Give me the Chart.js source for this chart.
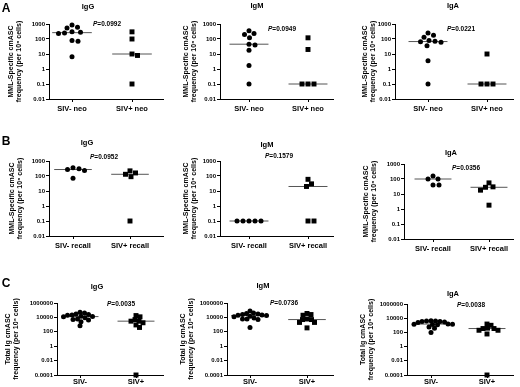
<!DOCTYPE html>
<html>
<head>
<meta charset="utf-8">
<script src="https://cdn.jsdelivr.net/npm/chart.js@4.4.0/dist/chart.umd.min.js"></script>
<style>
  html, body { margin: 0; padding: 0; background: #fff; }
  #page { position: relative; width: 520px; height: 387px; overflow: hidden;
          font-family: Arial, "Liberation Sans", sans-serif; }
  canvas { position: absolute; }
  .txt { position: absolute; white-space: nowrap; font-weight: bold; color: #000; line-height: 1;
         will-change: transform; }
  .mid { transform: translate(-50%, -50%); }
  .left { transform: translate(0, -50%); }
</style>
</head>
<body>
<div id="page"></div>
<script>
// categories and tick labels
const neoCats = ["SIV- neo", "SIV+ neo"];
const recallCats = ["SIV- recall", "SIV+ recall"];
const totalCats = ["SIV-", "SIV+"];

const specificTicks = [0.01, 0.1, 1, 10, 100, 1000];
const specificTickLabels = ["0.01", "0.1", "1", "10", "100", "1000"];
const totalTicks = [0.0001, 0.01, 1, 100, 10000, 1000000];
const totalTickLabels = ["0.0001", "0.01", "1", "100", "10000", "1000000"];

const specificTitle = ["MML-Specific cmASC", "frequency (per 10\u2076 cells)"];
const totalTitle = ["Total Ig cmASC", "frequency (per 10\u2076 cells)"];

// A: MML-specific, neonatal
const neoIgGNeg = [850, 600, 550, 300, 280, 250, 230, 80, 70, 6.5];
const neoIgGPos = [300, 100, 10, 8, 0.1];
const neoIgMNeg = [350, 230, 200, 120, 45, 40, 18, 1.7, 0.1];
const neoIgMPos = [120, 20, 0.1, 0.1, 0.1];
const neoIgANeg = [250, 180, 130, 80, 70, 65, 60, 35, 3.5, 0.1];
const neoIgAPos = [10, 0.1, 0.1, 0.1];

// B: MML-specific, recall
const recallIgGNeg = [350, 300, 270, 230, 70];
const recallIgGPos = [220, 160, 130, 90, 0.1];
const recallIgMNeg = [0.1, 0.1, 0.1, 0.1, 0.1];
const recallIgMPos = [60, 30, 20, 0.1, 0.1];
const recallIgANeg = [160, 100, 100, 40, 40];
const recallIgAPos = [55, 30, 28, 18, 1.8];

// C: total Ig
const totalIgGNeg = [50000, 40000, 30000, 25000, 22000, 20000, 14000, 13000, 12000, 9000, 6000, 5000, 4500, 2500, 700];
const totalIgGPos = [18000, 12000, 5000, 3000, 3000, 1800, 900, 400, 0.0001];
const totalIgMNeg = [80000, 40000, 35000, 30000, 25000, 22000, 20000, 18000, 15000, 12000, 8000, 6000, 6000, 5000, 400];
const totalIgMPos = [35000, 25000, 20000, 6000, 5000, 5000, 2000, 2000, 350];
const totalIgANeg = [4500, 4000, 4000, 3500, 3500, 3000, 2500, 1500, 1400, 1400, 1300, 1200, 600, 400, 100];
const totalIgAPos = [1500, 1000, 400, 350, 350, 200, 200, 60, 0.0001];

const pValues = ["0.0992", "0.0949", "0.0221", "0.0952", "0.1579", "0.0356", "0.0035", "0.0736", "0.0038"];

// panel placement on the page (pixels)
const panels = [
  { iso: "IgG", cats: neoCats, neg: neoIgGNeg, pos: neoIgGPos, spec: true,
    col: 0, ax: 49, right: 163, top: 24, bottom: 99, g1: 72, g2: 132,
    tx: 88, ty: 7, px: 93, py: 24, yt: 11 },
  { iso: "IgM", cats: neoCats, neg: neoIgMNeg, pos: neoIgMPos, spec: true,
    col: 170, ax: 220, right: 333, top: 24, bottom: 99, g1: 249, g2: 308,
    tx: 257, ty: 6, px: 268, py: 29, yt: 186 },
  { iso: "IgA", cats: neoCats, neg: neoIgANeg, pos: neoIgAPos, spec: true,
    col: 345, ax: 395, right: 513, top: 24, bottom: 99, g1: 428, g2: 487,
    tx: 453, ty: 6, px: 447, py: 29, yt: 365 },
  { iso: "IgG", cats: recallCats, neg: recallIgGNeg, pos: recallIgGPos, spec: true,
    col: 0, ax: 49, right: 163, top: 161, bottom: 236, g1: 73, g2: 130,
    tx: 87, ty: 143, px: 90, py: 157, yt: 12 },
  { iso: "IgM", cats: recallCats, neg: recallIgMNeg, pos: recallIgMPos, spec: true,
    col: 170, ax: 220, right: 333, top: 161, bottom: 236, g1: 249, g2: 308,
    tx: 267, ty: 145, px: 265, py: 156, yt: 186 },
  { iso: "IgA", cats: recallCats, neg: recallIgANeg, pos: recallIgAPos, spec: true,
    col: 345, ax: 404, right: 513, top: 164, bottom: 239, g1: 433, g2: 489,
    tx: 451, ty: 153, px: 452, py: 168, yt: 366 },
  { iso: "IgG", cats: totalCats, neg: totalIgGNeg, pos: totalIgGPos, spec: false,
    col: 0, ax: 57, right: 163, top: 303, bottom: 375, g1: 80, g2: 136,
    tx: 97, ty: 287, px: 107, py: 304, yt: 8 },
  { iso: "IgM", cats: totalCats, neg: totalIgMNeg, pos: totalIgMPos, spec: false,
    col: 170, ax: 227, right: 333, top: 303, bottom: 375, g1: 250, g2: 307,
    tx: 263, ty: 286, px: 270, py: 303, yt: 183 },
  { iso: "IgA", cats: totalCats, neg: totalIgANeg, pos: totalIgAPos, spec: false,
    col: 345, ax: 407, right: 513, top: 304, bottom: 375, g1: 431, g2: 487,
    tx: 453, ty: 294, px: 457, py: 305, yt: 363 }
];

const letters = [["A", 6, 8], ["B", 6, 141], ["C", 6, 283]];

const page = document.getElementById("page");
const FONT = "Arial, 'Liberation Sans', sans-serif";

const median = (arr) => {
  const s = [...arr].sort((a, b) => a - b);
  const m = Math.floor(s.length / 2);
  return s.length % 2 ? s[m] : (s[m - 1] + s[m]) / 2;
};

// spread points with similar values sideways, like a column scatter
const swarm = (values, center, pxPerUnit, pxPerDecade, minDist) => {
  const step = 0.5;
  const placed = [];
  const order = values.map((v, i) => i).sort((a, b) => values[b] - values[a]);
  const out = [];
  order.forEach((i) => {
    const py = Math.log10(values[i]) * pxPerDecade;
    let k = 0, off = 0;
    while (true) {
      off = k === 0 ? 0 : (k % 2 ? 1 : -1) * Math.ceil(k / 2) * step;
      if (!placed.some((p) => Math.hypot(p.x - off, p.y - py) < minDist)) break;
      k++;
    }
    placed.push({ x: off, y: py });
    out.push({ x: center + off / pxPerUnit, y: values[i] });
  });
  return out;
};

const addText = (html, x, y, size, cls) => {
  const d = document.createElement("div");
  d.className = "txt " + cls;
  d.style.left = x + "px";
  d.style.top = y + "px";
  d.style.fontSize = size + "px";
  d.innerHTML = html;
  page.appendChild(d);
};

const createPanel = (cfg, idx) => {
  const canvas = document.createElement("canvas");
  const cTop = cfg.top - 12;
  const xAxisH = 22;
  const w = cfg.right + 4 - cfg.col;
  const h = cfg.bottom + xAxisH - cTop;
  canvas.width = w;
  canvas.height = h;
  canvas.style.left = cfg.col + "px";
  canvas.style.top = cTop + "px";
  canvas.style.width = w + "px";
  canvas.style.height = h + "px";
  page.appendChild(canvas);

  const ticks = cfg.spec ? specificTicks : totalTicks;
  const tickLabels = cfg.spec ? specificTickLabels : totalTickLabels;
  const yMin = ticks[0], yMax = ticks[ticks.length - 1];
  const pxPerUnit = cfg.g2 - cfg.g1;
  const pxPerDecade = (cfg.bottom - cfg.top) / (Math.log10(yMax) - Math.log10(yMin));
  const xMin = 1 - (cfg.g1 - cfg.ax) / pxPerUnit;
  const xMax = 1 + (cfg.right - cfg.g1) / pxPerUnit;
  const medNeg = median(cfg.neg), medPos = median(cfg.pos);
  const gap = cfg.spec ? 5.6 : 4.1;
  const titleFont = 7, lineH = 8.4;

  new Chart(canvas.getContext("2d"), {
    type: "scatter",
    data: {
      datasets: [
        { data: [{ x: 0.67, y: medNeg }, { x: 1.33, y: medNeg }], showLine: true,
          borderColor: "#555", borderWidth: 1, pointRadius: 0, order: 3, clip: false },
        { data: [{ x: 1.67, y: medPos }, { x: 2.33, y: medPos }], showLine: true,
          borderColor: "#555", borderWidth: 1, pointRadius: 0, order: 3, clip: false },
        { data: swarm(cfg.neg, 1, pxPerUnit, pxPerDecade, gap), pointStyle: "circle",
          pointRadius: 2.5, backgroundColor: "#000", borderWidth: 0, order: 1, clip: false },
        { data: swarm(cfg.pos, 2, pxPerUnit, pxPerDecade, gap), pointStyle: "rect",
          pointRadius: 3.5, backgroundColor: "#000", borderWidth: 0, order: 1, clip: false }
      ]
    },
    options: {
      responsive: false,
      animation: false,
      devicePixelRatio: 1,
      layout: { padding: { top: 12, right: 4, left: 0, bottom: 0 } },
      plugins: { legend: { display: false }, tooltip: { enabled: false } },
      scales: {
        x: {
          type: "linear",
          min: xMin,
          max: xMax,
          afterBuildTicks: (s) => { s.ticks = [{ value: 1 }, { value: 2 }]; },
          afterFit: (s) => { s.height = xAxisH; },
          ticks: {
            autoSkip: false, maxRotation: 0, padding: cfg.spec ? 2 : -1, color: "#000",
            font: { family: FONT, size: 7.5, weight: "bold" },
            callback: (v) => cfg.cats[Math.round(v) - 1]
          },
          grid: { display: true, drawOnChartArea: false, drawTicks: true,
                  tickLength: 3, color: "#000", lineWidth: 1 },
          border: { display: true, color: "#000", width: 1 }
        },
        y: {
          type: "logarithmic",
          min: yMin,
          max: yMax,
          afterBuildTicks: (s) => { s.ticks = ticks.map((v) => ({ value: v })); },
          afterFit: (s) => { s.width = cfg.ax - cfg.col; },
          ticks: {
            autoSkip: false, padding: 1, color: "#000",
            font: { family: FONT, size: 6, weight: "bold" },
            callback: (v) => tickLabels[ticks.indexOf(v)]
          },
          grid: { display: true, drawOnChartArea: false, drawTicks: true,
                  tickLength: 3, color: "#000", lineWidth: 1 },
          border: { display: true, color: "#000", width: 1 },
          title: {
            display: true,
            text: cfg.spec ? specificTitle : totalTitle,
            color: "#000",
            font: { family: FONT, size: titleFont, weight: "bold", lineHeight: lineH / titleFont },
            padding: { top: Math.max(0, cfg.yt - cfg.col - lineH / 2), bottom: 0 }
          }
        }
      }
    }
  });

  addText(cfg.iso, cfg.tx, cfg.ty, 7.5, "mid");
  addText("<i>P</i>=" + pValues[idx], cfg.px, cfg.py, 6.5, "left");
};

panels.forEach(createPanel);
letters.forEach(([l, x, y]) => addText(l, x, y, 12, "mid"));
</script>
</body>
</html>
